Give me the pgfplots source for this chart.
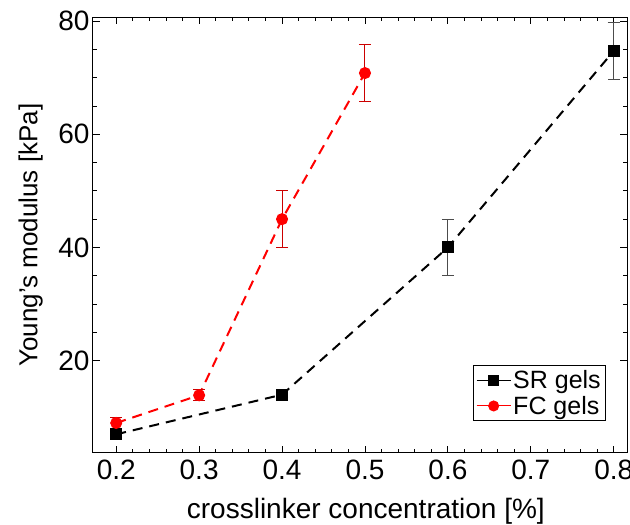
\documentclass[border=0pt]{standalone}
\usepackage{fontspec}
\setmainfont{Liberation Sans}
\usepackage{pgfplots}
\pgfplotsset{compat=1.18}
\begin{document}
\begin{tikzpicture}
\useasboundingbox (-93pt,-72pt) rectangle (537pt,453pt);
\begin{axis}[
  at={(0,0)}, anchor=south west,
  scale only axis, width=534pt, height=436pt,
  xmin=0.172, xmax=0.816, ymin=3.7, ymax=80.7,
  xtick={0.2,0.3,0.4,0.5,0.6,0.7,0.8}, ytick={20,40,60,80},
  minor x tick num=4, minor y tick num=3,
  /pgf/number format/assume math mode=true,
  xticklabel style={yshift=-3pt, /pgf/number format/fixed, /pgf/number format/precision=1, /pgf/number format/fixed zerofill},
  tick style={black, line width=0.8pt}, major tick length=7pt, minor tick length=4pt,
  axis line style={line width=1pt},
  tick label style={font=\fontsize{28}{32}\selectfont},
  xlabel={crosslinker concentration [\%]},
  ylabel={Young's modulus [kPa]},
  xlabel style={font=\fontsize{28}{32}\selectfont, at={(axis description cs:0.511,0)}, anchor=base, yshift=-65pt, inner sep=0pt},
  ylabel style={font=\fontsize{26}{30}\selectfont, at={(axis description cs:0,0.5)}, anchor=south, yshift=50pt, inner sep=0pt},
  legend style={at={(0.961,0.073)}, anchor=south east, draw=black, line width=0.8pt,
    font=\fontsize{25}{29}\selectfont, inner sep=3pt, row sep=2pt},
  legend cell align=left,
  legend image code/.code={\draw[mark repeat=2,mark phase=2,solid,line width=1pt,#1] plot coordinates {(0cm,0cm) (0.6cm,0cm) (1.2cm,0cm)};},
]
\addplot[black, dashed, dash pattern=on 10pt off 7pt, line width=2pt,
  mark=square*, mark size=5pt, mark options={solid},
  error bars/.cd, y dir=both, y explicit,
  error bar style={gray!60!black, line width=1pt, solid},
  error mark options={rotate=90, mark size=6pt, line width=1pt, gray!60!black, solid}]
  coordinates {(0.2,7) +- (0,0.5) (0.4,14) +- (0,0.5) (0.6,40) +- (0,5) (0.8,74.7) +- (0,5)};
\addlegendentry{SR gels}
\addplot[red, dashed, dash pattern=on 10pt off 7pt, line width=2pt,
  mark=*, mark size=5pt, mark options={solid},
  error bars/.cd, y dir=both, y explicit,
  error bar style={red!80!black, line width=1pt, solid},
  error mark options={rotate=90, mark size=6pt, line width=1pt, red!80!black, solid}]
  coordinates {(0.2,9) +- (0,1) (0.3,13.9) +- (0,1) (0.4,45) +- (0,5) (0.5,70.8) +- (0,5)};
\addlegendentry{FC gels}
\end{axis}
\end{tikzpicture}
\end{document}
